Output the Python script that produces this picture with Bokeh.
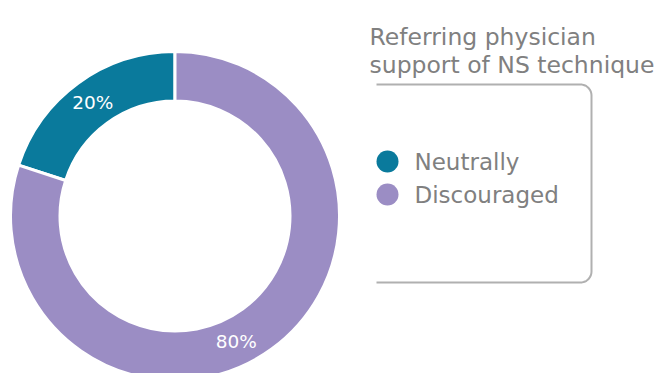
import numpy as np
from bokeh.plotting import figure
from bokeh.models import ColumnDataSource, Range1d
from bokeh.core.properties import value
from bokeh.embed import file_html
from bokeh.resources import INLINE

# ---- data ----
categories = ["Neutrally", "Discouraged"]
percents = [20, 80]
labels = ["20%", "80%"]
colors = ["#0A7A9C", "#9B8DC4"]
title_lines = ["Referring physician", "support of NS technique"]

# ---- layout (styles/positions) ----
W, H = 660, 373
FONT = "DejaVu Sans"
cx, cy = 167.5, 150.5
r_out, r_in = 164.5, 115.0
label_angle_offset = [0.0, -10.0]  # degrees
SHIFT = 7
TOP = 366

p = figure(width=W, height=H, output_backend="svg", toolbar_location=None,
           x_range=Range1d(-SHIFT, W - SHIFT), y_range=Range1d(TOP - H, TOP), min_border=0)
p.axis.visible = False
p.grid.visible = False
p.outline_line_color = None
p.background_fill_color = "white"
p.border_fill_color = "white"

vals = np.array(percents, dtype=float)
frac = vals / vals.sum()
start = np.pi / 2 + 2 * np.pi * np.concatenate([[0], np.cumsum(frac)[:-1]])
end = start + 2 * np.pi * frac

src = ColumnDataSource(dict(x=[cx] * len(vals), y=[cy] * len(vals), start=start, end=end,
                            color=colors, cat=categories))
p.annular_wedge(x="x", y="y", inner_radius=r_in, outer_radius=r_out, start_angle="start",
                end_angle="end", fill_color="color", line_color="white", line_width=3, source=src)

mid = (start + end) / 2 + np.radians(label_angle_offset)
rm = (r_in + r_out) / 2
lsrc = ColumnDataSource(dict(x=cx + rm * np.cos(mid), y=cy + rm * np.sin(mid), t=labels))
p.text(x="x", y="y", text="t", source=lsrc, text_color="white", text_font=value(FONT),
       text_font_size="18.5px", text_align="center", text_baseline="middle")

# title
p.text(x=[362, 362], y=[330, 302], text=title_lines, text_color="#808080",
       text_font=value(FONT), text_font_size="23.5px", text_align="left", text_baseline="alphabetic")

# legend box (open on left, rounded right corners)
x0, x1, yt, yb, rc = 369, 584, 282, 84, 11
th1 = np.linspace(np.pi / 2, 0, 12)
th2 = np.linspace(0, -np.pi / 2, 12)
bx = [x0] + list(x1 - rc + rc * np.cos(th1)) + list(x1 - rc + rc * np.cos(th2)) + [x0]
by = [yt] + list(yt - rc + rc * np.sin(th1)) + list(yb + rc + rc * np.sin(th2)) + [yb]
p.line(bx, by, line_color="#b0b0b0", line_width=2)

# legend entries
ly = [205, 172]
p.scatter(x=[380] * len(categories), y=ly, size=22, marker="circle", fill_color=colors,
          line_color=None)
p.text(x=[407] * len(categories), y=ly, text=categories, text_color="#808080",
       text_font=value(FONT), text_font_size="23px", text_align="left", text_baseline="middle")

open("out.html", "w").write(file_html(p, INLINE))
